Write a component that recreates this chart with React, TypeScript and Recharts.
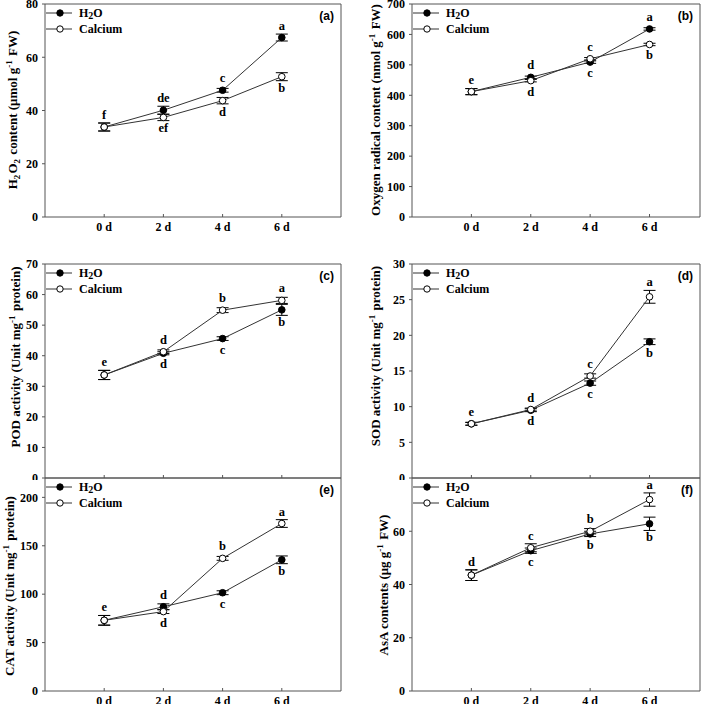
import React from "react";
import { LineChart, Line, XAxis, YAxis, ErrorBar, LabelList, ReferenceLine } from "recharts";

const SERIF = "'Liberation Serif', 'Times New Roman', serif";
const SANS = "'Liberation Sans', Arial, sans-serif";
const FRAME = "#555";
const LINE = "#333";

const days = [0, 2, 4, 6];

// (a) H2O2 content
const h2o2Water = [33.8, 40.1, 47.6, 67.4];
const h2o2Ca = [33.8, 37.4, 43.7, 52.7];
const h2o2WaterErr = [1.5, 1.5, 0.7, 1.3];
const h2o2CaErr = [1.5, 1.2, 1.2, 1.5];
const h2o2WaterLet = ["f", "de", "c", "a"];
const h2o2CaLet = ["", "ef", "d", "b"];
const h2o2WaterPos = ["u", "u", "u", "u"];
const h2o2CaPos = ["", "d", "d", "d"];
const h2o2Ticks = [0, 20, 40, 60, 80];

// (b) oxygen radical content
const o2Water = [412, 459, 509, 618];
const o2Ca = [412, 448, 520, 567];
const o2WaterErr = [10, 4, 4, 4];
const o2CaErr = [10, 4, 4, 4];
const o2WaterLet = ["e", "d", "c", "a"];
const o2CaLet = ["", "d", "c", "b"];
const o2WaterPos = ["u", "u", "d", "u"];
const o2CaPos = ["", "d", "u", "d"];
const o2Ticks = [0, 100, 200, 300, 400, 500, 600, 700];

// (c) POD activity
const podWater = [33.7, 40.8, 45.6, 55.0];
const podCa = [33.7, 41.3, 54.9, 58.1];
const podWaterErr = [1.5, 0.5, 0.6, 1.8];
const podCaErr = [1.5, 0.6, 0.8, 1.0];
const podWaterLet = ["e", "d", "c", "b"];
const podCaLet = ["", "d", "b", "a"];
const podWaterPos = ["u", "d", "d", "d"];
const podCaPos = ["", "u", "u", "u"];
const podTicks = [0, 10, 20, 30, 40, 50, 60, 70];

// (d) SOD activity
const sodWater = [7.6, 9.5, 13.3, 19.1];
const sodCa = [7.6, 9.6, 14.3, 25.4];
const sodWaterErr = [0.2, 0.2, 0.3, 0.4];
const sodCaErr = [0.2, 0.2, 0.3, 0.9];
const sodWaterLet = ["e", "d", "c", "b"];
const sodCaLet = ["", "d", "c", "a"];
const sodWaterPos = ["u", "d", "d", "d"];
const sodCaPos = ["", "u", "u", "u"];
const sodTicks = [0, 5, 10, 15, 20, 25, 30];

// (e) CAT activity
const catWater = [73, 87, 101.5, 135.5];
const catCa = [73, 82, 137, 173];
const catWaterErr = [5, 3, 2, 4];
const catCaErr = [5, 2, 2, 4];
const catWaterLet = ["e", "d", "c", "b"];
const catCaLet = ["", "d", "b", "a"];
const catWaterPos = ["u", "u", "d", "d"];
const catCaPos = ["", "d", "u", "u"];
const catTicks = [0, 50, 100, 150, 200];

// (f) AsA contents
const asaWater = [43.5, 52.7, 59.0, 62.8];
const asaCa = [43.5, 53.8, 60.0, 71.9];
const asaWaterErr = [2, 1, 1, 2.5];
const asaCaErr = [2, 1.5, 1, 2.5];
const asaWaterLet = ["d", "c", "b", "b"];
const asaCaLet = ["", "c", "b", "a"];
const asaWaterPos = ["u", "d", "d", "d"];
const asaCaPos = ["", "u", "u", "u"];
const asaTicks = [0, 20, 40, 60];

const Sup = ({ t }: { t: string }) => (
  <>
    <tspan fontSize={9} dy={-5}>{t}</tspan>
    <tspan dy={5}>{"\u200a"}</tspan>
  </>
);
const Sub = ({ t }: { t: string }) => (
  <>
    <tspan fontSize={9} dy={3}>{t}</tspan>
    <tspan dy={-3}>{"\u200a"}</tspan>
  </>
);

function DayTick(props: any) {
  const { x, y, payload, show } = props;
  return (
    <g>
      <line x1={x} x2={x} y1={y - 5} y2={y - 8} stroke={FRAME} />
      {show && (
        <text x={x} y={y} dy="0.71em" textAnchor="middle" fontSize={12} fontWeight="bold" fontFamily={SERIF} fill="#000">
          {`${payload.value} d`}
        </text>
      )}
    </g>
  );
}

// significance letters, placed above ("u") or below ("d") the point
const letterContent = (errs: number[], ppu: number) => (props: any) => {
  const tag: string = props.value ?? "";
  if (!tag || tag.indexOf("|") < 0) return null;
  const [pos, letter] = tag.split("|");
  if (!letter) return null;
  const vb = props.viewBox || {};
  const x = props.x ?? vb.x;
  const y = props.y ?? vb.y;
  const errPx = (errs[props.index] ?? 0) * ppu;
  const extra = Math.max(0, errPx - 4);
  const ty = pos === "u" ? y - 8 - extra : y + 15 + extra;
  return (
    <text x={x} y={ty} textAnchor="middle" fontSize={12.5} fontWeight="bold" fontFamily={SERIF} fill="#000">
      {letter}
    </text>
  );
};

function Key({ x, y }: { x: number; y: number }) {
  return (
    <g fontFamily={SERIF} fontWeight="bold" fontSize={12} fill="#000">
      <line x1={x + 1} x2={x + 27} y1={y + 9} y2={y + 9} stroke={LINE} />
      <circle cx={x + 15} cy={y + 9} r={3.2} fill="#000" stroke="#000" />
      <text x={x + 34} y={y + 13}>
        H<tspan fontSize={10} dy={2}>2</tspan><tspan dy={-2}>O</tspan>
      </text>
      <line x1={x + 1} x2={x + 27} y1={y + 25} y2={y + 25} stroke={LINE} />
      <circle cx={x + 15} cy={y + 25} r={3.2} fill="#fff" stroke="#000" />
      <text x={x + 34} y={y + 29}>Calcium</text>
    </g>
  );
}

interface PanelCfg {
  left: number; top: number; w: number; h: number;
  mTop: number; yWidth: number; xHeight: number;
  yMax: number; yTicks: number[]; xMax: number; showX: boolean;
  water: number[]; ca: number[]; waterErr: number[]; caErr: number[];
  waterLet: string[]; caLet: string[]; waterPos: string[]; caPos: string[];
  tag: string; labelX: number; labelY: number; title: React.ReactNode;
}

function Panel({ c }: { c: PanelCfg }) {
  const margin = { top: c.mTop, right: 9, bottom: 0, left: 0 };
  const plotLeft = c.yWidth;
  const plotRight = c.w - margin.right;
  const ppu = (c.h - c.mTop - c.xHeight) / c.yMax;
  const rows = days.map((d, i) => ({
    day: d,
    water: c.water[i],
    ca: c.ca[i],
    waterErr: c.waterErr[i],
    caErr: c.caErr[i],
    waterTag: `${c.waterPos[i]}|${c.waterLet[i]}`,
    caTag: `${c.caPos[i]}|${c.caLet[i]}`,
  }));
  return (
    <div style={{ position: "absolute", left: c.left, top: c.top }}>
      <LineChart width={c.w} height={c.h} data={rows} margin={margin} style={{ overflow: "visible" }}>
        <XAxis
          type="number" dataKey="day" domain={[-2, c.xMax]} ticks={days} interval={0}
          allowDataOverflow height={c.xHeight} stroke={FRAME} tickLine={false}
          tickSize={0} tickMargin={5}
          tick={(p: any) => <DayTick {...p} show={c.showX} />}
        />
        <YAxis
          type="number" domain={[0, c.yMax]} ticks={c.yTicks} interval={0} allowDataOverflow
          width={c.yWidth} stroke={FRAME} tickSize={3} tickMargin={4}
          tick={{ fill: "#000", fontSize: 12, fontWeight: "bold", fontFamily: SERIF }}
        />
        <ReferenceLine y={c.yMax} stroke={FRAME} />
        <ReferenceLine x={c.xMax} stroke={FRAME} />
        <Line
          dataKey="water" stroke={LINE} strokeWidth={1} isAnimationActive={false}
          dot={{ r: 3.3, fill: "#000", stroke: "#000", strokeWidth: 1 }}
        >
          <ErrorBar dataKey="waterErr" direction="y" width={6} stroke="#000" strokeWidth={1} />
          <LabelList dataKey="waterTag" content={letterContent(c.waterErr, ppu)} />
        </Line>
        <Line
          dataKey="ca" stroke={LINE} strokeWidth={1} isAnimationActive={false}
          dot={{ r: 3.3, fill: "#fff", stroke: "#000", strokeWidth: 1 }}
        >
          <ErrorBar dataKey="caErr" direction="y" width={6} stroke="#000" strokeWidth={1} />
          <LabelList dataKey="caTag" content={letterContent(c.caErr, ppu)} />
        </Line>
        <Key x={plotLeft} y={c.mTop} />
        <text x={plotRight - 7} y={c.mTop + 16} textAnchor="end" fontFamily={SANS} fontWeight="bold" fontSize={12} fill="#000">
          {c.tag}
        </text>
        <text
          transform={`translate(${c.labelX + 4.5},${c.labelY}) rotate(-90)`}
          textAnchor="middle" fontFamily={SERIF} fontWeight="bold" fontSize={13} fill="#000"
        >
          {c.title}
        </text>
      </LineChart>
    </div>
  );
}

const panels: PanelCfg[] = [
  {
    left: 0, top: 0, w: 350, h: 240, mTop: 4, yWidth: 45, xHeight: 23,
    yMax: 80, yTicks: h2o2Ticks, xMax: 8, showX: true,
    water: h2o2Water, ca: h2o2Ca, waterErr: h2o2WaterErr, caErr: h2o2CaErr,
    waterLet: h2o2WaterLet, caLet: h2o2CaLet, waterPos: h2o2WaterPos, caPos: h2o2CaPos,
    tag: "(a)", labelX: 12, labelY: 110,
    title: <>H<Sub t="2" />O<Sub t="2" /> content (μmol g<Sup t="-1" /> FW)</>,
  },
  {
    left: 350, top: 0, w: 359, h: 240, mTop: 4, yWidth: 62, xHeight: 23,
    yMax: 700, yTicks: o2Ticks, xMax: 7.7, showX: true,
    water: o2Water, ca: o2Ca, waterErr: o2WaterErr, caErr: o2CaErr,
    waterLet: o2WaterLet, caLet: o2CaLet, waterPos: o2WaterPos, caPos: o2CaPos,
    tag: "(b)", labelX: 25, labelY: 110,
    title: <>Oxygen radical content (nmol g<Sup t="-1" /> FW)</>,
  },
  {
    left: 0, top: 240, w: 350, h: 240, mTop: 24, yWidth: 45, xHeight: 2,
    yMax: 70, yTicks: podTicks, xMax: 8, showX: false,
    water: podWater, ca: podCa, waterErr: podWaterErr, caErr: podCaErr,
    waterLet: podWaterLet, caLet: podCaLet, waterPos: podWaterPos, caPos: podCaPos,
    tag: "(c)", labelX: 15, labelY: 117,
    title: <>POD activity (Unit mg<Sup t="-1" /> protein)</>,
  },
  {
    left: 350, top: 240, w: 359, h: 240, mTop: 24, yWidth: 62, xHeight: 2,
    yMax: 30, yTicks: sodTicks, xMax: 7.7, showX: false,
    water: sodWater, ca: sodCa, waterErr: sodWaterErr, caErr: sodCaErr,
    waterLet: sodWaterLet, caLet: sodCaLet, waterPos: sodWaterPos, caPos: sodCaPos,
    tag: "(d)", labelX: 25, labelY: 116,
    title: <>SOD activity (Unit mg<Sup t="-1" /> protein)</>,
  },
  {
    left: 0, top: 470, w: 350, h: 234, mTop: 8, yWidth: 45, xHeight: 13,
    yMax: 220, yTicks: catTicks, xMax: 8, showX: true,
    water: catWater, ca: catCa, waterErr: catWaterErr, caErr: catCaErr,
    waterLet: catWaterLet, caLet: catCaLet, waterPos: catWaterPos, caPos: catCaPos,
    tag: "(e)", labelX: 9, labelY: 116,
    title: <>CAT activity (Unit mg<Sup t="-1" /> protein)</>,
  },
  {
    left: 350, top: 470, w: 359, h: 234, mTop: 8, yWidth: 62, xHeight: 13,
    yMax: 80, yTicks: asaTicks, xMax: 7.7, showX: true,
    water: asaWater, ca: asaCa, waterErr: asaWaterErr, caErr: asaCaErr,
    waterLet: asaWaterLet, caLet: asaCaLet, waterPos: asaWaterPos, caPos: asaCaPos,
    tag: "(f)", labelX: 33, labelY: 115,
    title: <>AsA contents (μg g<Sup t="-1" /> FW)</>,
  },
];

export default function App() {
  return (
    <div style={{ position: "relative", width: 709, height: 704, background: "#fff", fontFamily: SERIF }}>
      <style>{`body{margin:0;overflow:hidden;background:#fff}`}</style>
      {panels.map((c) => (
        <Panel key={c.tag} c={c} />
      ))}
    </div>
  );
}
